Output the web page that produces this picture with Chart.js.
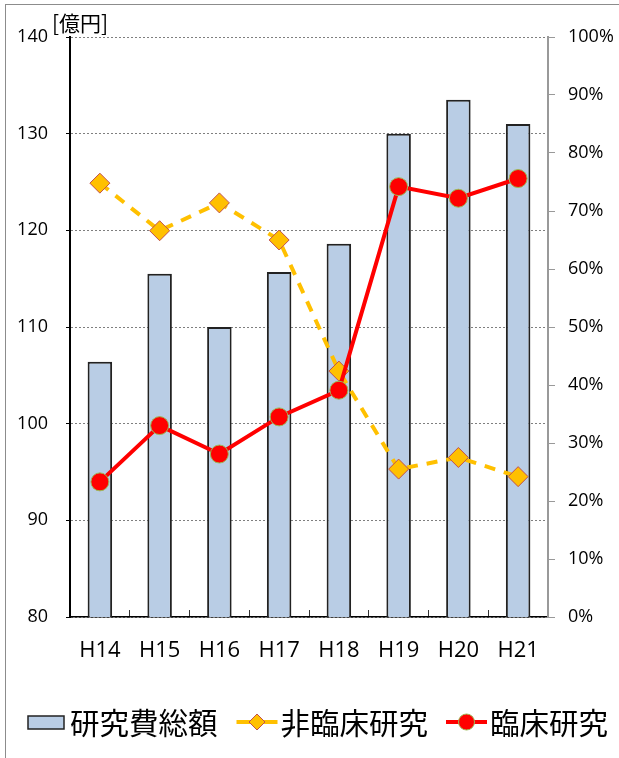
<!DOCTYPE html>
<html>
<head>
<meta charset="utf-8">
<script src="https://cdn.jsdelivr.net/npm/chart.js@4/dist/chart.umd.min.js"></script>
<style>
  html, body { margin: 0; padding: 0; background: #fff; }
  #wrap { position: relative; width: 619px; height: 758px; }
</style>
</head>
<body>
<div id="wrap"><canvas id="chart" width="619" height="758"></canvas></div>
<script>
// 研究費総額 (億円) と 臨床/非臨床 の割合
const years = ['H14', 'H15', 'H16', 'H17', 'H18', 'H19', 'H20', 'H21']
const totalCost = [106.4, 115.5, 110.0, 115.7, 118.6, 130.0, 133.5, 131.0]
const nonClinical = [74.8, 66.6, 71.4, 65.0, 42.4, 25.5, 27.5, 24.2]
const clinical = [23.3, 33.0, 28.1, 34.5, 39.1, 74.2, 72.2, 75.6]
const seriesNames = ['研究費総額', '非臨床研究', '臨床研究']

const tickFont = { family: '"Open Sans", sans-serif', size: 18 }
const cjkFont = '"Noto Sans CJK JP", sans-serif'

// frame, unit label and the legend row
const decor = {
  id: 'decor',
  afterDraw(chart) {
    const c = chart.ctx
    const area = chart.chartArea
    c.save()
    c.strokeStyle = '#8c8c8c'
    c.lineWidth = 1
    c.strokeRect(5.5, 4.5, 700, 800)

    // solid value axis line
    c.strokeStyle = '#000'
    c.lineWidth = 2
    c.setLineDash([])
    c.beginPath(); c.moveTo(area.left, area.top); c.lineTo(area.left, area.bottom + 1); c.stroke()

    c.fillStyle = '#000'
    c.font = '21px ' + cjkFont
    c.textBaseline = 'middle'
    c.textAlign = 'left'
    c.fillText('[億円]', 52, 23)

    const ds = chart.data.datasets
    c.font = '29.5px ' + cjkFont
    const y = 722
    let x = 28
    // bar swatch
    c.fillStyle = ds[0].backgroundColor
    c.fillRect(x, y - 6, 36, 13)
    c.strokeStyle = '#222'
    c.lineWidth = 1.5
    c.strokeRect(x, y - 6, 36, 13)
    x += 42
    c.fillStyle = '#000'
    c.fillText(ds[0].label, x, y + 1)
    x += c.measureText(ds[0].label).width + 19

    // line + marker swatches
    for (const i of [1, 2]) {
      const d = ds[i]
      c.strokeStyle = d.borderColor
      c.lineWidth = 4
      c.beginPath(); c.moveTo(x, y); c.lineTo(x + 41, y); c.stroke()
      c.fillStyle = d.pointBackgroundColor
      c.strokeStyle = d.pointBorderColor
      c.lineWidth = 1
      const cx = x + 20.5
      c.beginPath()
      if (d.pointStyle === 'rectRot') {
        c.moveTo(cx, y - 8); c.lineTo(cx + 8, y); c.lineTo(cx, y + 8); c.lineTo(cx - 8, y); c.closePath()
      } else {
        c.arc(cx, y, 8, 0, Math.PI * 2)
      }
      c.fill(); c.stroke()
      x += 44
      c.fillStyle = '#000'
      c.fillText(d.label, x, y + 1)
      x += c.measureText(d.label).width + 18
    }
    c.restore()
  },
}

new Chart(document.getElementById('chart'), {
  data: {
    labels: years,
    datasets: [
      {
        type: 'bar',
        label: seriesNames[0],
        data: totalCost,
        backgroundColor: '#B9CDE5',
        borderColor: '#222',
        borderWidth: 2,
        barPercentage: 0.41,
        categoryPercentage: 1,
        yAxisID: 'y',
        order: 3,
      },
      {
        type: 'line',
        label: seriesNames[1],
        data: nonClinical,
        borderColor: '#FFC000',
        borderWidth: 4,
        borderDash: [11, 9],
        pointStyle: 'rectRot',
        pointRadius: 10,
        pointBackgroundColor: '#FFC000',
        pointBorderColor: '#C0504D',
        pointBorderWidth: 1,
        tension: 0,
        yAxisID: 'y2',
        order: 2,
      },
      {
        type: 'line',
        label: seriesNames[2],
        data: clinical,
        borderColor: '#FF0000',
        borderWidth: 4,
        pointStyle: 'circle',
        pointRadius: 9,
        pointBackgroundColor: '#FF0000',
        pointBorderColor: '#9BBB59',
        pointBorderWidth: 1,
        tension: 0,
        yAxisID: 'y2',
        order: 1,
      },
    ],
  },
  options: {
    responsive: false,
    animation: false,
    layout: { padding: { top: 37, left: 0, right: 0, bottom: 0 } },
    plugins: {
      legend: { display: false },
      tooltip: { enabled: false },
    },
    scales: {
      x: {
        grid: { drawOnChartArea: false, tickLength: -7, tickColor: '#333' },
        border: { color: '#000', width: 1.5 },
        ticks: { color: '#000', font: { family: '"Open Sans", sans-serif', size: 22 }, padding: 28 },
        afterFit: (s) => { s.height = 141 },
      },
      y: {
        position: 'left',
        min: 80,
        max: 140,
        grid: { color: '#7f7f7f', lineWidth: 1, tickLength: 4, tickColor: '#000' },
        border: { color: '#000', width: 2, dash: [2, 2] },
        ticks: { stepSize: 10, color: '#000', font: tickFont, padding: 18 },
        afterFit: (s) => { s.width = 70 },
      },
      y2: {
        position: 'right',
        min: 0,
        max: 100,
        grid: { drawOnChartArea: false, tickLength: 7, tickColor: '#999' },
        border: { color: '#999', width: 2 },
        ticks: { stepSize: 10, color: '#000', font: tickFont, padding: 13, callback: (v) => v + '%' },
        afterFit: (s) => { s.width = 71 },
      },
    },
  },
  plugins: [decor],
})
</script>
</body>
</html>
